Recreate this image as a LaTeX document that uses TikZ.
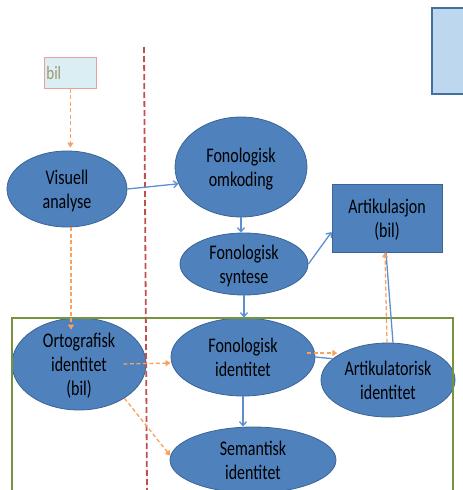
\documentclass[tikz,border=0pt]{standalone}
\usepackage{fontspec}
\usepackage{graphicx}
\setmainfont{Carlito}
\usetikzlibrary{shapes.geometric,arrows.meta}
\definecolor{ellfill}{HTML}{4F81BD}
\definecolor{elldraw}{HTML}{3A6496}
\definecolor{bluearrow}{HTML}{5B8FD0}
\definecolor{orangearrow}{HTML}{F9A25E}
\definecolor{redline}{HTML}{C0504D}
\definecolor{greenline}{HTML}{77933C}
\definecolor{bilfill}{HTML}{DAEEF3}
\definecolor{bildraw}{HTML}{E6A0A0}
\definecolor{biltext}{HTML}{9A9A70}
\definecolor{boxfill}{HTML}{BDD7EE}
\definecolor{boxdraw}{HTML}{41719C}
\newcommand\stretchlines[1]{\smash{\raisebox{-5pt}{$\vcenter{\hbox{\scalebox{1}[1.3]{\fontsize{16}{18.5}\selectfont\begin{tabular}{@{}c@{}}#1\end{tabular}}}}$}}}
\begin{document}
\begin{tikzpicture}[x=1pt,y=-1pt,
  ell/.style={ellipse,draw=elldraw,fill=ellfill,line width=0.8pt,inner sep=0pt,align=center},
  rectbox/.style={rectangle,draw=elldraw,fill=ellfill,line width=0.8pt,inner sep=0pt,align=center},
  bl/.style={draw=bluearrow,line width=1.3pt,-{Straight Barb[length=4pt,width=7pt]}},
  blplain/.style={draw=bluearrow,line width=1.3pt},
  orr/.style={draw=orangearrow,line width=1.3pt,dash pattern=on 4pt off 2.5pt,-{Triangle[length=5pt,width=6pt]}}]
\useasboundingbox (0,0) rectangle (463,490);
\clip (0,0) rectangle (463,490);
% top right box
\draw[boxdraw,fill=boxfill,line width=2pt] (432,8) rectangle (480,94);
% bil box
\node[draw=bildraw,fill=bilfill,line width=0.8pt,anchor=north west,text width=48pt,inner xsep=2pt,minimum height=31pt,align=left,text=biltext,font=\fontsize{15}{18}\selectfont] (bil) at (44,57) {\scalebox{1}[1.25]{bil}};
% nodes
\node[ell,minimum width=120,minimum height=76] (va) at (67,189) {\stretchlines{Visuell\\analyse}};
\node[ell,minimum width=132,minimum height=100] (fo) at (241,167) {\stretchlines{Fonologisk\\omkoding}};
\node[ell,minimum width=128,minimum height=62] (fs) at (244,264) {\stretchlines{Fonologisk\\syntese}};
\node[rectbox,minimum width=110,minimum height=68] (ar) at (387,218) {\stretchlines{Artikulasjon\\(bil)}};
\node[ell,minimum width=134,minimum height=92] (oi) at (79,364) {\stretchlines{Ortografisk\\identitet\\(bil)}};
\node[ell,minimum width=144,minimum height=78] (fi) at (243,357) {\stretchlines{Fonologisk\\identitet}};
\node[ell,minimum width=134,minimum height=74] (ai) at (388,380) {\stretchlines{Artikulatorisk\\identitet}};
\node[ell,minimum width=166,minimum height=66] (si) at (253,460) {\stretchlines{Semantisk\\identitet}};
% green frame
\draw[greenline,line width=1.5pt] (12,318) rectangle (453,500);
% red dashed line
\draw[redline,line width=1.8pt,dash pattern=on 6pt off 3pt] (144,47) -- (147,490);
% blue connectors
\draw[bl] (va.east) -- (fo.195);
\draw[bl] (fo.south) -- (fo.south |- fs.north);
\draw[bl] (fs.east) -- ([yshift=-14pt]ar.west);
\draw[bl] (fs.south) -- (fs.south |- fi.north);
\draw[bl] (fi.south) -- (fi.south |- si.north);
\draw[blplain] (fi.east) -- (ai.159);
\draw[blplain] ([xshift=5pt]ai.north) -- ([xshift=-1pt]ar.south);
% orange connectors
\draw[orr,shorten >=3pt] (bil.south) -- (bil.south |- va.north);
\draw[orr,shorten >=-12pt] ([xshift=4pt]va.south) -- ([xshift=4pt]va.south |- oi.north);
\draw[orr] ([xshift=-23pt]oi.east) -- ([yshift=-6pt]fi.west);
\draw[orr] (oi.323) -- (si.177);
\draw[orr,shorten >=-6pt] ([xshift=-8pt,yshift=4pt]fi.east) -- ([xshift=-8pt,yshift=4pt]fi.east -| ai.152);
\draw[orr] ([xshift=-1pt]ai.north) -- ([xshift=-2pt]ar.south);
\end{tikzpicture}
\end{document}
